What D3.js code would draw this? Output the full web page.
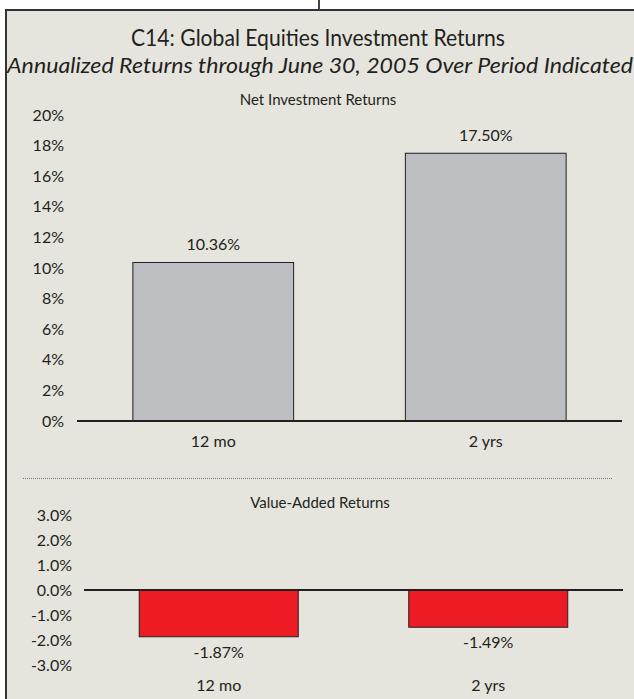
<!DOCTYPE html>
<html>
<head>
<meta charset="utf-8">
<script src="https://cdn.jsdelivr.net/npm/d3@7"></script>
<style>
  body { margin: 0; background: #fff; }
  svg text { font-family: Lato, "Open Sans", sans-serif; fill: #231f20; font-weight: 400; }
</style>
</head>
<body>
<div class="chart"></div>
<script>
// chart data
var categories = ["12 mo", "2 yrs"];
var netReturns = [10.36, 17.50];
var netLabels = ["10.36%", "17.50%"];
var valueAdded = [-1.87, -1.49];
var valueAddedLabels = ["-1.87%", "-1.49%"];
var netTicks = [0, 2, 4, 6, 8, 10, 12, 14, 16, 18, 20];
var vaTicks = [-3, -2, -1, 0, 1, 2, 3];

var svgWidth = 634;
var svgHeight = 699;

var svg = d3.select(".chart")
  .append("svg")
  .attr("width", svgWidth)
  .attr("height", svgHeight);

// panel background + frame
svg.append("rect")
  .attr("x", 6).attr("y", 10)
  .attr("width", svgWidth - 6).attr("height", svgHeight - 10)
  .attr("fill", "#e5e5dd");
svg.append("line")
  .attr("x1", 5).attr("x2", svgWidth).attr("y1", 10).attr("y2", 10)
  .attr("stroke", "#333").attr("stroke-width", 2);
svg.append("line")
  .attr("x1", 6).attr("x2", 6).attr("y1", 9).attr("y2", svgHeight)
  .attr("stroke", "#333").attr("stroke-width", 2);
svg.append("line")
  .attr("x1", 319).attr("x2", 319).attr("y1", 0).attr("y2", 10)
  .attr("stroke", "#444").attr("stroke-width", 2);

// titles
svg.append("text")
  .attr("x", 318).attr("y", 46)
  .attr("text-anchor", "middle")
  .style("font-size", "23px")
  .attr("textLength", 374)
  .attr("lengthAdjust", "spacingAndGlyphs")
  .text("C14:  Global Equities Investment Returns");
svg.append("text")
  .attr("x", 320).attr("y", 73)
  .attr("text-anchor", "middle")
  .style("font-size", "21px")
  .style("font-style", "italic")
  .attr("textLength", 626)
  .attr("lengthAdjust", "spacingAndGlyphs")
  .text("Annualized Returns through June 30, 2005 Over Period Indicated");

// ---- top chart: net investment returns
var xTop = d3.scaleBand()
  .domain(categories)
  .range([77, 622])
  .paddingInner(0.41)
  .paddingOuter(0.205);

var yTop = d3.scaleLinear()
  .domain([0, 20])
  .range([421, 115]);

svg.append("text")
  .attr("x", 318).attr("y", 105)
  .attr("text-anchor", "middle")
  .style("font-size", "15px")
  .text("Net Investment Returns");

var topAxis = svg.append("g")
  .attr("transform", "translate(64,0)")
  .call(d3.axisLeft(yTop).tickValues(netTicks).tickSize(0).tickPadding(0).tickFormat(d => d + "%"));
topAxis.select(".domain").remove();
topAxis.selectAll("text").style("font-size", "16px").attr("fill", "#231f20");

svg.selectAll(".netBar")
  .data(netReturns)
  .enter()
  .append("rect")
  .attr("class", "netBar")
  .attr("x", (d, i) => xTop(categories[i]))
  .attr("width", xTop.bandwidth())
  .attr("y", d => yTop(d))
  .attr("height", d => yTop(0) - yTop(d))
  .attr("fill", "#bdbec1")
  .attr("stroke", "#231f20")
  .attr("stroke-width", 1);

svg.selectAll(".netLabel")
  .data(netReturns)
  .enter()
  .append("text")
  .attr("class", "netLabel")
  .attr("x", (d, i) => xTop(categories[i]) + xTop.bandwidth() / 2)
  .attr("y", d => yTop(d) - 12)
  .attr("text-anchor", "middle")
  .style("font-size", "16px")
  .text((d, i) => netLabels[i]);

svg.append("line")
  .attr("x1", 77).attr("x2", 622)
  .attr("y1", yTop(0)).attr("y2", yTop(0))
  .attr("stroke", "#231f20").attr("stroke-width", 2);

var topX = svg.append("g")
  .attr("transform", "translate(0,436)")
  .call(d3.axisBottom(xTop).tickSize(0).tickPadding(0));
topX.select(".domain").remove();
topX.selectAll("text").style("font-size", "16px").attr("fill", "#231f20");

// divider
svg.append("line")
  .attr("x1", 23).attr("x2", 613).attr("y1", 478.5).attr("y2", 478.5)
  .attr("stroke", "#777").attr("stroke-width", 1)
  .attr("stroke-dasharray", "1,1");

// ---- bottom chart: value-added returns
var xBot = d3.scaleBand()
  .domain(categories)
  .range([84, 623])
  .paddingInner(0.41)
  .paddingOuter(0.205);

var yBot = d3.scaleLinear()
  .domain([-3, 3])
  .range([665, 515]);

svg.append("text")
  .attr("x", 320).attr("y", 508)
  .attr("text-anchor", "middle")
  .style("font-size", "15px")
  .text("Value-Added Returns");

var botAxis = svg.append("g")
  .attr("transform", "translate(72,0)")
  .call(d3.axisLeft(yBot).tickValues(vaTicks).tickSize(0).tickPadding(0).tickFormat(d => d.toFixed(1) + "%"));
botAxis.select(".domain").remove();
botAxis.selectAll("text").style("font-size", "16px").attr("fill", "#231f20");

svg.selectAll(".vaBar")
  .data(valueAdded)
  .enter()
  .append("rect")
  .attr("class", "vaBar")
  .attr("x", (d, i) => xBot(categories[i]))
  .attr("width", xBot.bandwidth())
  .attr("y", yBot(0))
  .attr("height", d => yBot(d) - yBot(0))
  .attr("fill", "#ed1c24")
  .attr("stroke", "#231f20")
  .attr("stroke-width", 1);

svg.selectAll(".vaLabel")
  .data(valueAdded)
  .enter()
  .append("text")
  .attr("class", "vaLabel")
  .attr("x", (d, i) => xBot(categories[i]) + xBot.bandwidth() / 2)
  .attr("y", d => yBot(d) + 21)
  .attr("text-anchor", "middle")
  .style("font-size", "16px")
  .text((d, i) => valueAddedLabels[i]);

svg.append("line")
  .attr("x1", 84).attr("x2", 623)
  .attr("y1", yBot(0)).attr("y2", yBot(0))
  .attr("stroke", "#231f20").attr("stroke-width", 2);

var botX = svg.append("g")
  .attr("transform", "translate(0,680)")
  .call(d3.axisBottom(xBot).tickSize(0).tickPadding(0));
botX.select(".domain").remove();
botX.selectAll("text").style("font-size", "16px").attr("fill", "#231f20");
</script>
</body>
</html>
